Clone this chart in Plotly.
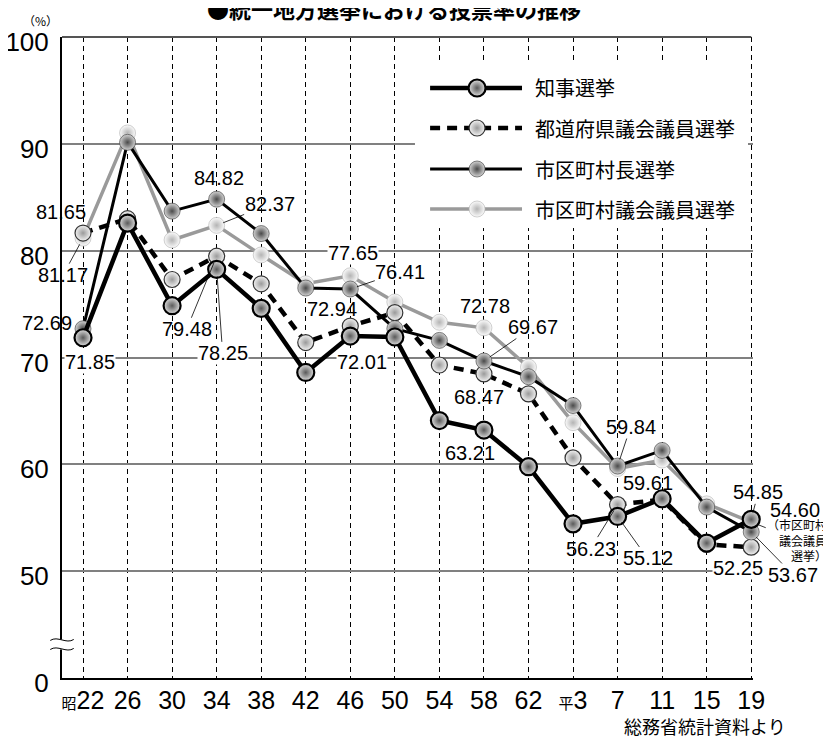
import plotly.graph_objects as go

# ---------------- data ----------------
cats = ["昭22", "26", "30", "34", "38", "42", "46", "50", "54", "58", "62", "平3", "7", "11", "15", "19"]
tick_text = ["<span style='font-size:15px'>昭</span>22", "26", "30", "34", "38", "42", "46", "50",
             "54", "58", "62", "<span style='font-size:15px'>平</span>3", "7", "11", "15", "19"]

governor = [71.85, 82.58, 74.85, 78.25, 74.6, 68.6, 72.01, 71.92, 64.1, 63.21, 59.78, 54.43, 55.12, 56.78, 52.63, 54.85]
prefectural = [81.65, 82.99, 77.3, 79.48, 76.9, 71.4, 72.94, 74.2, 69.3, 68.47, 66.6, 60.6, 56.23, 56.7, 52.5, 52.25]
mayor = [72.69, 90.14, 83.7, 84.82, 81.6, 76.5, 76.41, 72.7, 71.6, 69.67, 68.2, 65.5, 59.84, 61.3, 56.0, 53.67]
assembly = [81.17, 91.02, 81.0, 82.37, 79.6, 76.9, 77.65, 75.2, 73.3, 72.78, 69.1, 63.9, 59.61, 60.4, 56.3, 54.60]

names = {"gov": "知事選挙", "pref": "都道府県議会議員選挙", "mayor": "市区町村長選挙", "asm": "市区町村議会議員選挙"}

y_tickvals = [40, 50, 60, 70, 80, 90, 100]
y_ticktext = ["0", "50", "60", "70", "80", "90", "100"]

# ---------------- styles ----------------
NUM = "Liberation Sans, Arial, Noto Sans CJK JP"
JP = "Noto Sans CJK JP, Liberation Sans"

styles = {
    "asm": dict(line=dict(color="#9a9a9a", width=3.5),
                marker=dict(size=16, color="#fbfbfb", gradient=dict(type="radial", color="#b4b4b4"),
                            line=dict(color="#b0b0b0", width=0.6))),
    "pref": dict(line=dict(color="black", width=4.5, dash="10px,7px"),
                 marker=dict(size=16, color="#f2f2f2", gradient=dict(type="radial", color="#9a9a9a"),
                             line=dict(color="#333333", width=1.2))),
    "mayor": dict(line=dict(color="black", width=3),
                  marker=dict(size=16, color="#d2d2d2", gradient=dict(type="radial", color="#4a4a4a"),
                              line=dict(color="#333333", width=0.6))),
    "gov": dict(line=dict(color="black", width=4.5),
                marker=dict(size=17, color="#dedede", gradient=dict(type="radial", color="#5a5a5a"),
                            line=dict(color="black", width=2.2))),
}
series = {"gov": governor, "pref": prefectural, "mayor": mayor, "asm": assembly}
order = ["asm", "pref", "mayor", "gov"]

fig = go.Figure()
for k in order:
    fig.add_trace(go.Scatter(x=cats, y=series[k], mode="lines+markers", name=names[k],
                             line=styles[k]["line"], marker=styles[k]["marker"],
                             cliponaxis=False, showlegend=False, xaxis="x", yaxis="y"))

# ---------------- custom legend (separate subplot, pixel-like units) ----------------
leg_rows = {"gov": 88, "pref": 128, "mayor": 169, "asm": 209}
for k in ["asm", "mayor", "pref", "gov"]:
    r = leg_rows[k]
    fig.add_trace(go.Scatter(x=[430, 522], y=[r, r], mode="lines", line=styles[k]["line"],
                             showlegend=False, xaxis="x2", yaxis="y2", hoverinfo="skip"))
    fig.add_trace(go.Scatter(x=[477], y=[r], mode="markers", marker=styles[k]["marker"],
                             showlegend=False, xaxis="x2", yaxis="y2", hoverinfo="skip",
                             cliponaxis=False))

annotations = []
for k in ["gov", "pref", "mayor", "asm"]:
    annotations.append(dict(x=533, y=leg_rows[k], xref="x2", yref="y2", text=names[k],
                            showarrow=False, xanchor="left", yanchor="middle",
                            font=dict(family=JP, size=20, color="black")))

# ---------------- value labels ----------------
# (series, index, dx, dy, leader, white background)
label_specs = [
    ("pref", 0, -22, -21, False, False),
    ("asm", 0, -20, 37, True, False),
    ("mayor", 0, -36, -6, False, False),
    ("gov", 0, 7, 24, False, True),
    ("mayor", 3, 2, -21, False, False),
    ("asm", 3, 53, -21, True, False),
    ("pref", 3, -30, 73, True, False),
    ("gov", 3, 6, 84, True, True),
    ("asm", 6, 3, -23, False, True),
    ("mayor", 6, 50, -17, True, False),
    ("pref", 6, -18, -17, False, False),
    ("gov", 6, 12, 26, False, True),
    ("asm", 9, 1, -22, False, False),
    ("mayor", 9, 49, -34, True, False),
    ("pref", 9, -5, 23, False, False),
    ("gov", 9, -14, 23, False, False),
    ("mayor", 12, 13, -39, True, False),
    ("asm", 12, 30, 14, False, False),
    ("pref", 12, -27, 44, True, False),
    ("gov", 12, 30, 42, True, False),
    ("gov", 15, 7, -27, True, False),
    ("asm", 15, 44, -12, False, False),
    ("mayor", 15, 42, 43, True, False),
    ("pref", 15, -13, 21, False, True),
]
for k, i, dx, dy, leader, bg in label_specs:
    v = series[k][i]
    a = dict(x=i, y=v, xref="x", yref="y", text=f"{v:.2f}",
             font=dict(family=NUM, size=20, color="black"),
             bgcolor="white" if bg else "rgba(0,0,0,0)", borderpad=0)
    if leader:
        a.update(showarrow=True, ax=dx, ay=dy, arrowhead=0, arrowwidth=0.8,
                 arrowcolor="black", standoff=7)
    else:
        a.update(showarrow=False, xshift=dx, yshift=-dy)
    annotations.append(a)

# note under 54.60
annotations.append(dict(x=15, y=assembly[15], xref="x", yref="y",
                        text="（市区町村<br>議会議員<br>選挙）", align="right",
                        font=dict(family=JP, size=12, color="black"),
                        showarrow=True, ax=46, ay=18, arrowhead=0, arrowwidth=0.8,
                        arrowcolor="black", standoff=8))

# title, unit, source
annotations += [
    dict(x=0.4805, y=1.0459, xref="paper", yref="paper", text="<b>●統一地方選挙における投票率の推移</b>",
         showarrow=False, xanchor="center", yanchor="middle", font=dict(family=JP, size=22, color="black")),
    dict(x=-0.0318, y=1.0265, xref="paper", yref="paper", text="（%）", showarrow=False,
         xanchor="center", yanchor="middle", font=dict(family=JP, size=12, color="black")),
    dict(x=0.9305, y=-0.0750, xref="paper", yref="paper", text="総務省統計資料より", showarrow=False,
         xanchor="center", yanchor="middle", font=dict(family=JP, size=18, color="black")),
]

# ---------------- shapes ----------------
shapes = [
    # legend white background (hides gridlines)
    dict(type="rect", xref="x", yref="y", x0=7.452, x1=14.927, y0=82.12, y1=97.66,
         fillcolor="white", line=dict(width=0), layer="between"),
    # top border
    dict(type="line", xref="paper", yref="paper", x0=0, x1=0.9975, y0=1, y1=1,
         line=dict(color="#555555", width=2), layer="above"),
    # axis break
    dict(type="rect", xref="paper", yref="paper", x0=-0.016, x1=0.016, y0=0.0445, y1=0.0601,
         fillcolor="white", line=dict(width=0), layer="above"),
    dict(type="path", xref="paper", yref="paper",
         path="M -0.017,0.0586 C -0.006,0.0664 0.006,0.0524 0.017,0.0601",
         line=dict(color="black", width=1), layer="above"),
    dict(type="path", xref="paper", yref="paper",
         path="M -0.017,0.0445 C -0.006,0.0523 0.006,0.0383 0.017,0.0461",
         line=dict(color="black", width=1), layer="above"),
]

# the page adds an 8px body margin, so the figure is 8px smaller and margins shifted
fig.update_layout(
    template="none",
    width=823, height=729,
    margin=dict(l=54, r=78, t=29, b=59, autoexpand=False),
    paper_bgcolor="white", plot_bgcolor="white",
    showlegend=False,
    font=dict(family=NUM, color="black"),
    xaxis=dict(type="category", categoryorder="array", categoryarray=cats,
               range=[-0.4716, 15.04], tickmode="array", tickvals=cats, ticktext=tick_text,
               showgrid=True, gridcolor="black", gridwidth=1, griddash="5px,4px",
               showline=True, linecolor="black", linewidth=2, ticks="", automargin=False,
               tickfont=dict(family=NUM, size=25, color="black"), ticklabelstandoff=-1,
               zeroline=False, fixedrange=True),
    yaxis=dict(range=[40, 100], tickmode="array", tickvals=y_tickvals, ticktext=y_ticktext,
               showgrid=True, gridcolor="#808080", gridwidth=1.5,
               showline=True, linecolor="black", linewidth=2, ticks="", automargin=False,
               tickfont=dict(family=NUM, size=26, color="black"), ticklabelstandoff=6,
               ticklabelshift=5,
               zeroline=False, fixedrange=True),
    xaxis2=dict(domain=[0.511, 0.9925], anchor="y2", range=[415, 748], visible=False, fixedrange=True),
    yaxis2=dict(domain=[0.702, 0.961], anchor="x2", range=[228, 62], visible=False, fixedrange=True),
    annotations=annotations,
    shapes=shapes,
)

fig.write_html("out.html")
